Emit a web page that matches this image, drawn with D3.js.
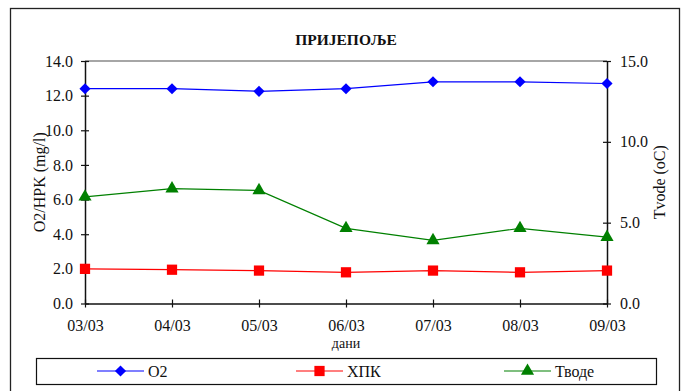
<!DOCTYPE html>
<html><head><meta charset="utf-8">
<script src="https://cdn.jsdelivr.net/npm/d3@7"></script>
<style>body{margin:0;background:#fff}svg{display:block}</style>
</head><body>
<svg id="c" width="686" height="391"></svg>
<script>
const categories = ["03/03","04/03","05/03","06/03","07/03","08/03","09/03"];
const o2 = [12.4, 12.4, 12.25, 12.4, 12.8, 12.8, 12.7];
const hpk = [2.0, 1.95, 1.9, 1.8, 1.9, 1.8, 1.9];
const tvode = [6.6, 7.1, 7.0, 4.65, 3.9, 4.65, 4.1];
const leftTicks = [0,2,4,6,8,10,12,14];
const rightTicks = [0,5,10,15];
const legendNames = ["O2","ХПК","Тводе"];

const FONT = "'Liberation Serif','Times New Roman',serif";
const svg = d3.select("#c");
function txt(sel){ return sel.style("font-family",FONT); }

// outer frame
svg.append("rect").attr("x",10.5).attr("y",8.5).attr("width",669).attr("height",400)
  .attr("fill","none").attr("stroke","#222").attr("stroke-width",1.3);

const L=85, R=607, T=61, B=303.5;
const x = d3.scalePoint().domain(categories).range([L,R]);
const yL = d3.scaleLinear().domain([0,14]).range([B,T]);
const yR = d3.scaleLinear().domain([0,15]).range([B,T]);

txt(svg.append("text").attr("x",346).attr("y",45).attr("text-anchor","middle")
  .attr("font-weight","bold").attr("font-size",15.5).attr("fill","#111").text("ПРИЈЕПОЉЕ"));

// top gray border
svg.append("line").attr("x1",L).attr("x2",R).attr("y1",T).attr("y2",T).attr("stroke","#888").attr("stroke-width",1.5);

function styleAxis(g){
  g.attr("font-family",null);
  g.select(".domain").attr("stroke","#111").attr("stroke-width",1.5);
  g.selectAll(".tick line").attr("stroke","#111").attr("stroke-width",1.2);
  txt(g.selectAll("text").attr("font-size",16).attr("fill","#111"));
}
const gl = svg.append("g").attr("transform",`translate(${L},0)`)
  .call(d3.axisLeft(yL).tickValues(leftTicks).tickFormat(d3.format(".1f")).tickSizeInner(4).tickSizeOuter(0).tickPadding(8));
gl.selectAll(".tick line").attr("x1",4).attr("x2",-4);
styleAxis(gl);
const gr = svg.append("g").attr("transform",`translate(${R},0)`)
  .call(d3.axisRight(yR).tickValues(rightTicks).tickFormat(d3.format(".1f")).tickSizeInner(4).tickSizeOuter(0).tickPadding(9));
gr.selectAll(".tick line").attr("x1",-4).attr("x2",4);
styleAxis(gr);
const gx = svg.append("g").attr("transform",`translate(0,${B})`)
  .call(d3.axisBottom(x).tickSizeInner(4).tickSizeOuter(0).tickPadding(12));
gx.selectAll(".tick line").attr("y1",-4).attr("y2",4);
styleAxis(gx);

txt(svg.append("text").attr("transform",`translate(45,${(T+B)/2}) rotate(-90)`).attr("text-anchor","middle")
  .attr("font-size",16).attr("fill","#111").text("O2/HPK (mg/l)"));
txt(svg.append("text").attr("transform",`translate(665,${(T+B)/2}) rotate(-90)`).attr("text-anchor","middle")
  .attr("font-size",16).attr("fill","#111").text("Tvode (oC)"));
txt(svg.append("text").attr("x",(L+R)/2).attr("y",347.5).attr("text-anchor","middle")
  .attr("font-size",14).attr("fill","#111").text("дани"));

const diamond = d3.symbol().type(d3.symbolSquare).size(62);
const square = d3.symbol().type(d3.symbolSquare).size(105);
const tri = d3.symbol().type(d3.symbolTriangle).size(75);
const rot = [45, 0, 0];

function series(vals, y, color, sym, r){
  const line = d3.line().x((d,i)=>x(categories[i])).y(d=>y(d));
  svg.append("path").datum(vals).attr("d",line).attr("fill","none").attr("stroke",color).attr("stroke-width",1.2);
  svg.selectAll(null).data(vals).enter().append("path")
    .attr("transform",(d,i)=>`translate(${x(categories[i])},${y(d)}) rotate(${r})`)
    .attr("d",sym).attr("fill",color);
}
series(hpk, yL, "#ff0000", square, 0);
series(tvode, yR, "#008000", tri, 0);
series(o2, yL, "#0000ff", diamond, 45);

// legend
svg.append("rect").attr("x",36.5).attr("y",358.5).attr("width",620).attr("height",26)
  .attr("fill","#fff").attr("stroke","#111").attr("stroke-width",1.2);
const legColors = ["#0000ff","#ff0000","#008000"];
const legSyms = [diamond, square, tri];
const legX = [97, 296, 504];
legendNames.forEach((n,i)=>{
  const g = svg.append("g").attr("transform",`translate(${legX[i]},371)`);
  g.append("line").attr("x1",0).attr("x2",47).attr("stroke",legColors[i]).attr("stroke-width",1.2);
  g.append("path").attr("transform",`translate(23.5,0) rotate(${rot[i]})`).attr("d",legSyms[i]).attr("fill",legColors[i]);
  txt(g.append("text").attr("x",51).attr("y",6).attr("font-size",16).attr("fill","#111").text(n));
});
</script>
</body></html>
